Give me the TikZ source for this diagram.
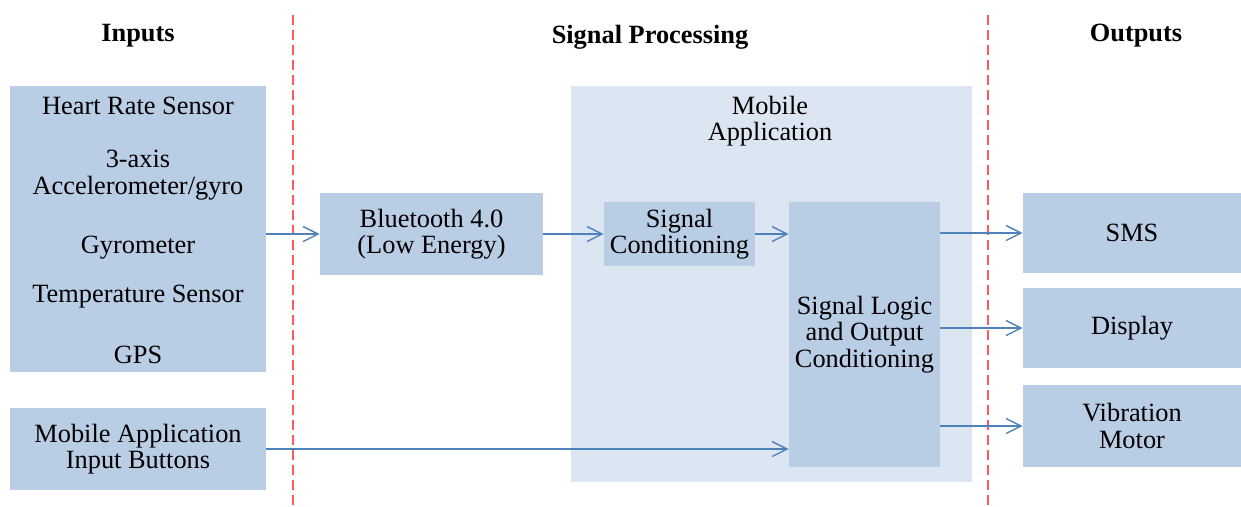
\documentclass[tikz,border=0pt]{standalone}
\usepackage{fontspec}
\setmainfont{Liberation Serif}
\usetikzlibrary{arrows.meta}
\definecolor{boxfill}{HTML}{B9CDE5}
\definecolor{appfill}{HTML}{DCE6F2}
\definecolor{link}{HTML}{4F81BD}
\definecolor{divider}{HTML}{FF5A5A}
\tikzset{
  >={Straight Barb[length=0.3cm,width=0.3cm]},
  txt/.style={font=\fontsize{15}{15}\selectfont,align=center,inner sep=0pt},
  head/.style={txt,font=\fontsize{15}{15}\selectfont\bfseries},
  blk/.style={txt,fill=boxfill},
  appbox/.style={fill=appfill,inner sep=0pt},
  wire/.style={->,draw=link,line width=0.8pt},
  sep/.style={draw=divider,line width=1.1pt,dash pattern=on 0.2cm off 0.1cm}
}

\begin{document}
\begin{tikzpicture}
  \useasboundingbox (0,0) rectangle (24.82,-10.12);
  % headings and dividers
  \node[head] (inputs) at (2.76,-0.72) {Inputs};
  \node[head] (proc) at (13.0,-0.74) {Signal Processing};
  \node[head] (outputs) at (22.72,-0.72) {Outputs};
  \draw[sep] (5.86,-0.3) -- (5.86,-10.1);
  \draw[sep] (19.76,-0.3) -- (19.76,-10.1);
  % inputs
  \node[blk,minimum width=5.12cm,minimum height=5.72cm] (sensors) at (2.76,-4.58) {};
  \node[txt] (hr) at (2.76,-2.12) {Heart Rate Sensor};
  \node[txt] (acc) at (2.76,-3.50) {3-axis\\Accelerometer/gyro};
  \node[txt] (gyro) at (2.76,-4.96) {Gyrometer};
  \node[txt] (temp) at (2.76,-5.94) {Temperature Sensor};
  \node[txt] (gps) at (2.76,-7.10) {GPS};
  \node[blk,minimum width=5.12cm,minimum height=1.64cm] (buttons) at (2.76,-8.98) {Mobile Application\\Input Buttons};
  % processing
  \node[blk,minimum width=4.46cm,minimum height=1.64cm] (bt) at (8.63,-4.68) {Bluetooth 4.0\\(Low Energy)};
  \node[appbox,minimum width=8.02cm,minimum height=7.92cm] (app) at (15.43,-5.68) {};
  \node[txt] (apptitle) at (15.40,-2.42) {Mobile\\Application};
  \node[blk,minimum width=3.02cm,minimum height=1.28cm] (cond) at (13.59,-4.68) {Signal\\Conditioning};
  \node[blk,minimum width=3.02cm,minimum height=5.30cm] (logic) at (17.29,-6.69) {Signal Logic\\and Output\\Conditioning};
  % outputs
  \node[blk,minimum width=4.36cm,minimum height=1.60cm] (sms) at (22.64,-4.66) {SMS};
  \node[blk,minimum width=4.36cm,minimum height=1.60cm] (disp) at (22.64,-6.56) {Display};
  \node[blk,minimum width=4.36cm,minimum height=1.64cm] (vib) at (22.64,-8.52) {Vibration\\Motor};
  % connections
  \draw[wire] (sensors.east |- bt.west) -- (bt.west);
  \draw[wire] (bt) -- (cond);
  \draw[wire] (cond.east) -- (cond.east -| logic.west);
  \draw[wire] (logic.east |- sms.west) -- (sms.west);
  \draw[wire] (logic.east |- disp.west) -- (disp.west);
  \draw[wire] (logic.east |- vib.west) -- (vib.west);
  \draw[wire] (buttons.east) -- (buttons.east -| logic.west);
\end{tikzpicture}
\end{document}
